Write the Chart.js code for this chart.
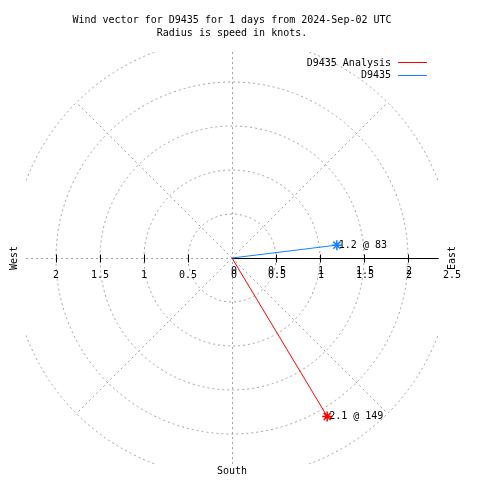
<!DOCTYPE html>
<html>
<head>
<meta charset="utf-8">
<script src="https://cdn.jsdelivr.net/npm/chart.js@4"></script>
<style>
  html, body { margin: 0; padding: 0; background: #fff; }
  #wrap { width: 480px; height: 480px; }
</style>
</head>
<body>
<div id="wrap"><canvas id="windChart" width="480" height="480"></canvas></div>
<script>
const titleLines = ['Wind vector for D9435 for 1 days from 2024-Sep-02 UTC', 'Radius is speed in knots.'];
const seriesNames = ['D9435 Analysis', 'D9435'];
const speeds = [2.1, 1.2];          // knots
const directions = [149, 83];       // degrees, clockwise from north
const seriesColors = ['#ff0000', '#1482ff'];
const rings = [0.5, 1, 1.5, 2, 2.5];
const tickValues = [0.5, 1, 1.5, 2];
const tickLabels = ['0.5', '1', '1.5', '2'];
const compassLabels = ['West', 'East', 'South'];

const FONT = '10px "DejaVu Sans Mono", "Liberation Mono", monospace';
const BOX = 2.34;   // plot border in knots

const datasets = seriesNames.map((name, i) => {
    const rad = directions[i] * Math.PI / 180;
    return {
        label: name,
        data: [{ x: 0, y: 0 }, { x: speeds[i] * Math.sin(rad), y: speeds[i] * Math.cos(rad) }],
        showLine: true,
        borderColor: seriesColors[i],
        backgroundColor: seriesColors[i],
        borderWidth: 1,
        pointStyle: 'star',
        pointRadius: [0, 5],
        pointBorderWidth: 1.5,
        pointHoverRadius: 0
    };
});

const polarGrid = {
    id: 'polarGrid',
    beforeDatasetsDraw(chart) {
        const { ctx, scales: { x, y } } = chart;
        const cx = x.getPixelForValue(0), cy = y.getPixelForValue(0);
        const px = x.getPixelForValue(1) - cx;
        ctx.save();
        ctx.beginPath();
        ctx.rect(x.getPixelForValue(-BOX), y.getPixelForValue(BOX), 2 * BOX * px, 2 * BOX * px);
        ctx.clip();
        ctx.strokeStyle = '#a0a0a0';
        ctx.lineWidth = 1;
        ctx.setLineDash([2, 3]);
        rings.forEach(r => {
            ctx.beginPath();
            ctx.arc(cx, cy, r * px, 0, Math.PI * 2);
            ctx.stroke();
        });
        [45, 135, 225, 315].forEach(a => {
            const rad = a * Math.PI / 180;
            ctx.beginPath();
            ctx.moveTo(cx, cy);
            ctx.lineTo(x.getPixelForValue(2.5 * Math.sin(rad)), y.getPixelForValue(2.5 * Math.cos(rad)));
            ctx.stroke();
        });
        ctx.beginPath();
        ctx.moveTo(Math.round(cx) + 0.5, y.getPixelForValue(BOX));
        ctx.lineTo(Math.round(cx) + 0.5, y.getPixelForValue(-BOX));
        ctx.moveTo(x.getPixelForValue(-BOX), Math.round(cy) + 0.5);
        ctx.lineTo(cx, Math.round(cy) + 0.5);
        ctx.stroke();
        ctx.restore();

        // radial axis
        ctx.save();
        ctx.strokeStyle = '#000';
        ctx.lineWidth = 1;
        const ay = Math.round(cy) + 0.5;
        ctx.beginPath();
        ctx.moveTo(cx, ay);
        ctx.lineTo(x.getPixelForValue(2.35), ay);
        tickValues.forEach(v => {
            [v, -v].forEach(t => {
                const tx = Math.round(x.getPixelForValue(t)) + 0.5;
                ctx.moveTo(tx, ay - 4);
                ctx.lineTo(tx, ay + 4);
            });
        });
        ctx.stroke();

        ctx.fillStyle = '#000';
        ctx.font = FONT;
        ctx.textAlign = 'center';
        ctx.textBaseline = 'middle';
        ctx.fillText('0', cx + 2, cy + 17);
        ctx.fillText('0', cx + 2, cy + 13);
        tickValues.forEach((v, i) => {
            ctx.fillText(tickLabels[i], x.getPixelForValue(-v), cy + 17);
            ctx.fillText(tickLabels[i], x.getPixelForValue(v) + 1, cy + 17);
            ctx.fillText(tickLabels[i], x.getPixelForValue(v) + 1, cy + 13);
        });
        ctx.fillText('2.5', x.getPixelForValue(2.5), cy + 17);

        ctx.save();
        ctx.translate(x.getPixelForValue(-2.47), cy);
        ctx.rotate(-Math.PI / 2);
        ctx.fillText(compassLabels[0], 0, 0);
        ctx.restore();
        ctx.save();
        ctx.translate(x.getPixelForValue(2.5), cy);
        ctx.rotate(-Math.PI / 2);
        ctx.fillText(compassLabels[1], 0, 0);
        ctx.restore();
        ctx.fillText(compassLabels[2], cx, y.getPixelForValue(-2.42));
        ctx.restore();
    },
    afterDatasetsDraw(chart) {
        const { ctx } = chart;
        ctx.save();
        ctx.font = FONT;
        ctx.fillStyle = '#000';
        ctx.textBaseline = 'middle';
        chart.data.datasets.forEach((ds, i) => {
            const pt = chart.getDatasetMeta(i).data[1];
            ctx.textAlign = 'left';
            ctx.fillText(speeds[i].toFixed(1) + ' @ ' + directions[i], pt.x + 2, pt.y);
        });
        // key, top right
        seriesNames.forEach((name, i) => {
            const ly = 63 + i * 12.5;
            ctx.textAlign = 'right';
            ctx.fillText(name, 391, ly);
            ctx.strokeStyle = seriesColors[i];
            ctx.lineWidth = 1;
            ctx.beginPath();
            ctx.moveTo(398, Math.round(ly) - 0.5);
            ctx.lineTo(427, Math.round(ly) - 0.5);
            ctx.stroke();
        });
        ctx.restore();
    }
};

new Chart(document.getElementById('windChart'), {
    type: 'scatter',
    data: { datasets },
    options: {
        responsive: false,
        animation: false,
        events: [],
        layout: { padding: { left: 12, right: 28, top: 0, bottom: 2 }, autoPadding: false },
        plugins: {
            legend: { display: false },
            tooltip: { enabled: false },
            title: {
                display: true,
                text: titleLines,
                color: '#000',
                font: { family: '"DejaVu Sans Mono", "Liberation Mono", monospace', size: 10, weight: 'normal', lineHeight: 1.3 },
                padding: { top: 14, bottom: 0 }
            }
        },
        scales: {
            x: { type: 'linear', display: false, min: -2.5, max: 2.5 },
            y: { type: 'linear', display: false, min: -2.5, max: 218 / 88 }
        }
    },
    plugins: [polarGrid]
});
</script>
</body>
</html>
